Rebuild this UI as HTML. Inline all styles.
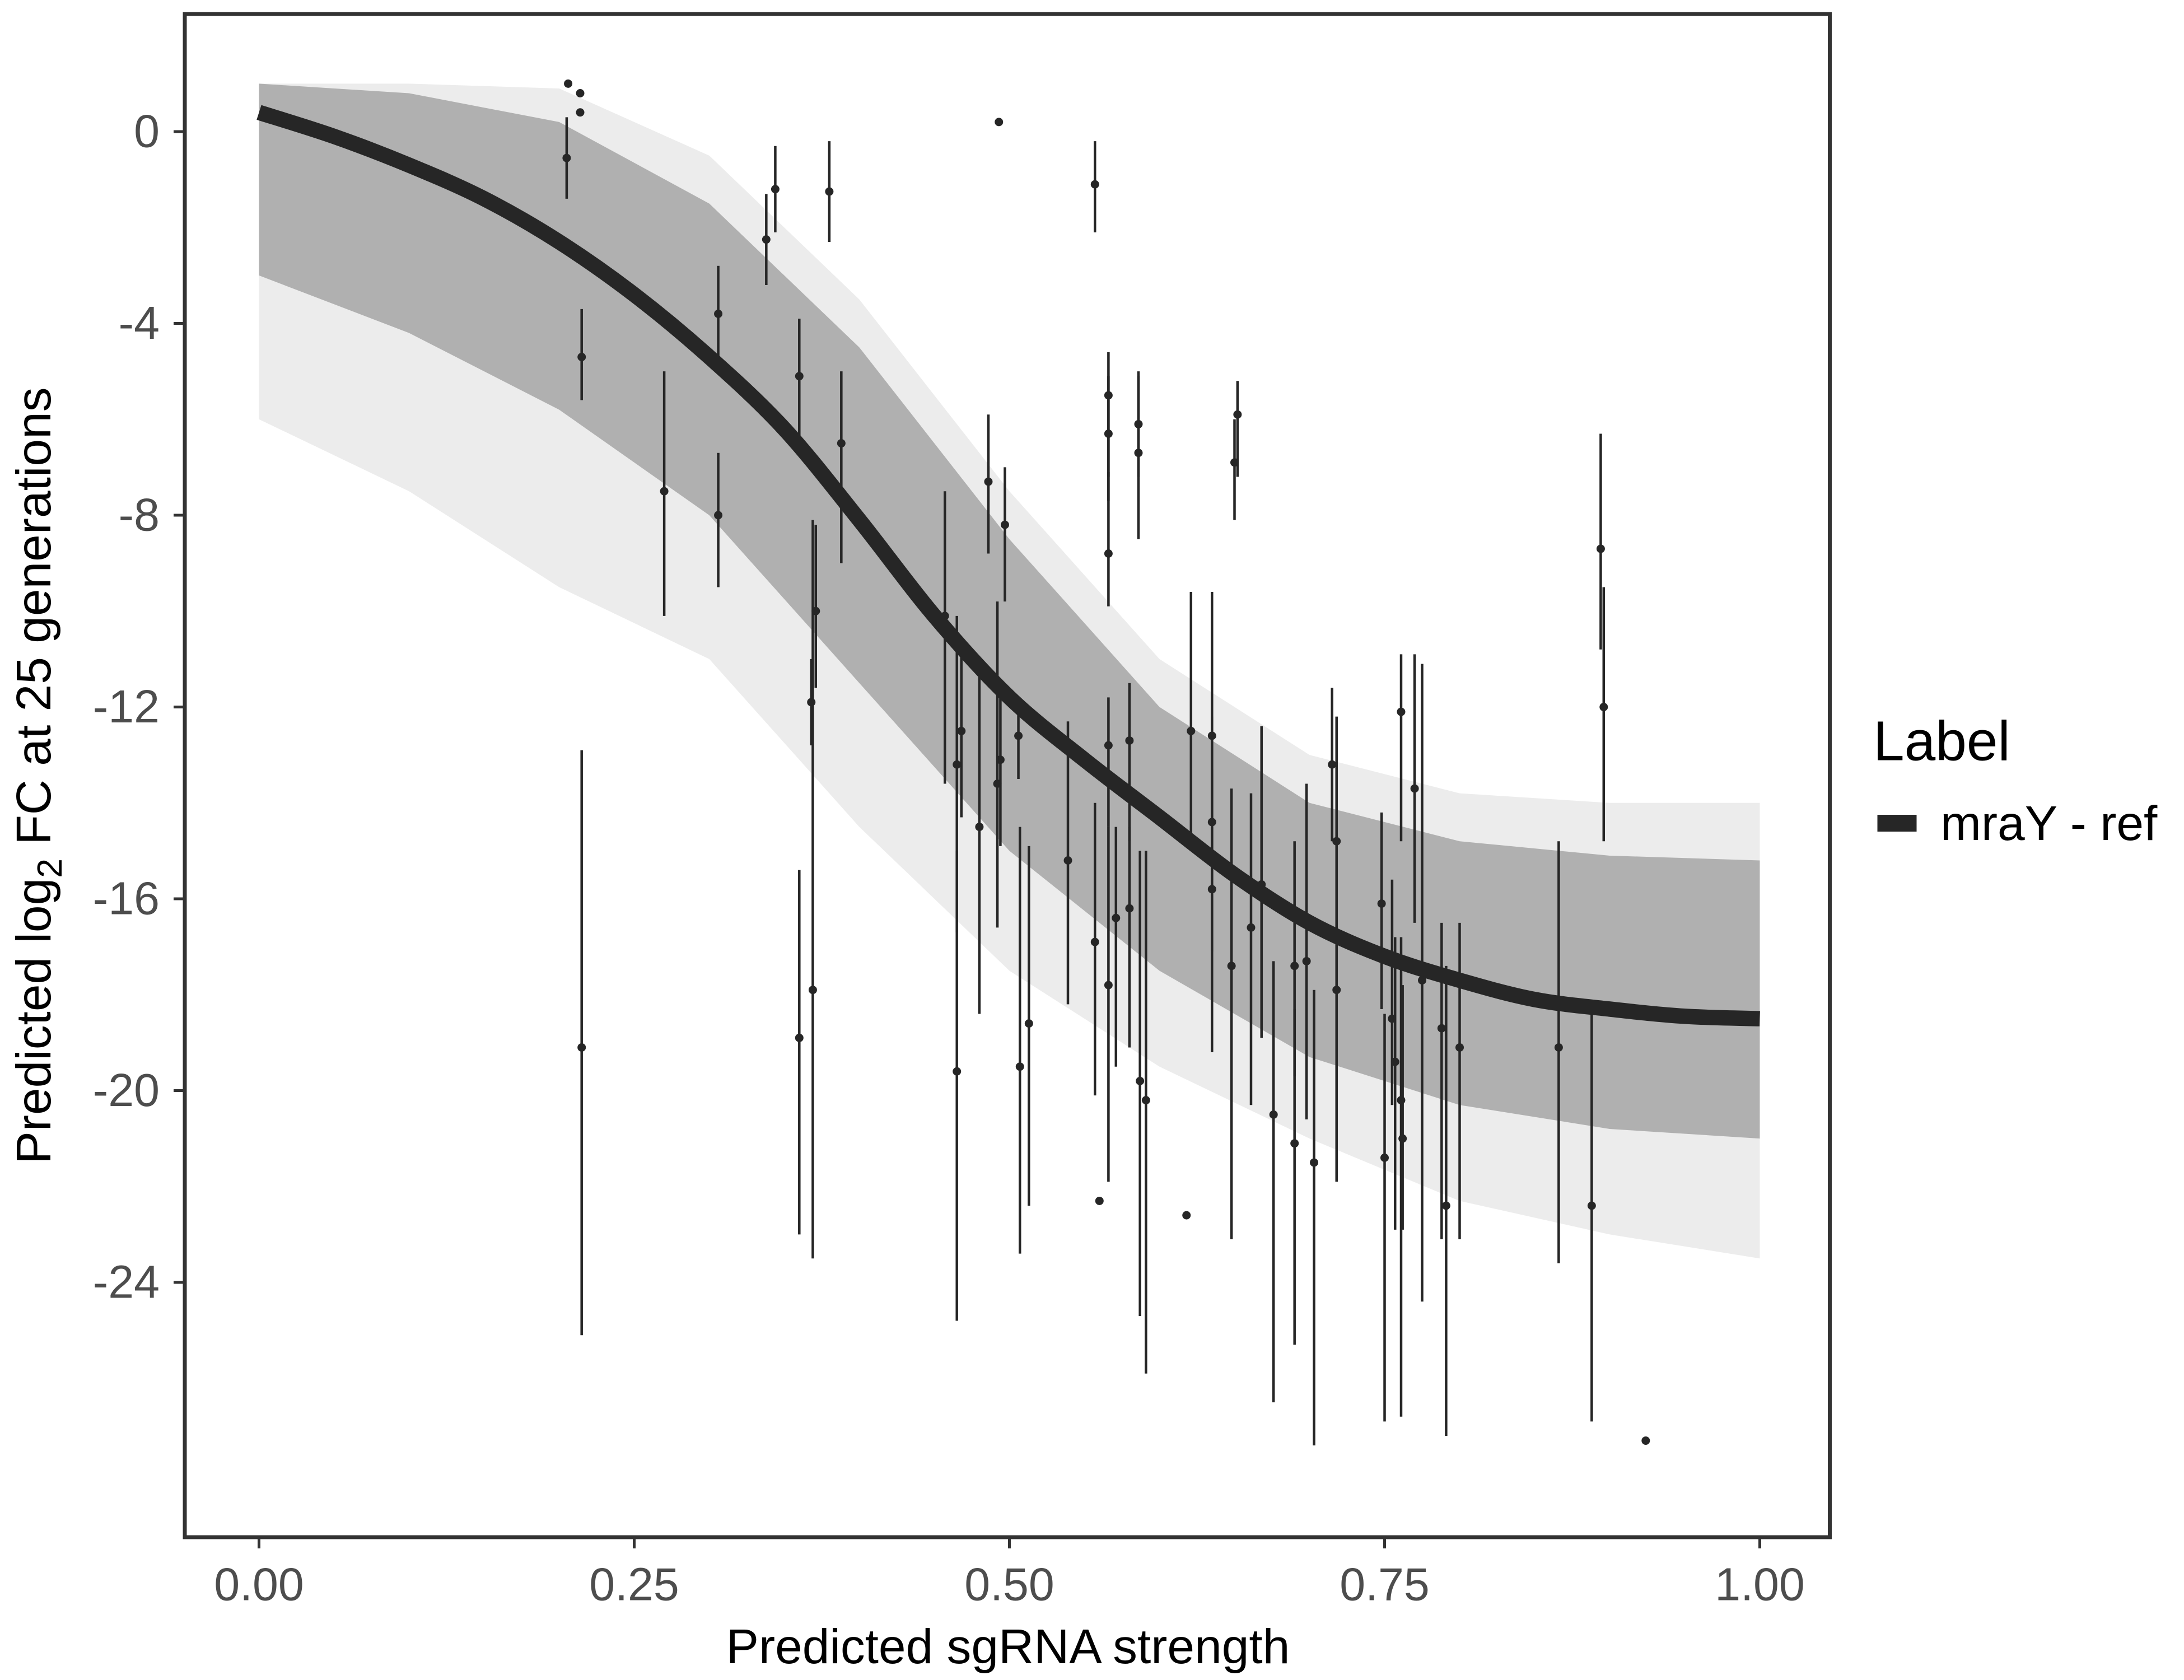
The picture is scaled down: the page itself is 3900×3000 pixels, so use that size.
<!DOCTYPE html>
<html><head><meta charset="utf-8"><style>html,body{margin:0;padding:0;background:#fff}svg{display:block}text{font-family:"Liberation Sans",sans-serif}</style></head>
<body>
<svg id="chart" width="3900" height="3000" viewBox="0 0 1560 1200" xmlns="http://www.w3.org/2000/svg">
<g id="bands"></g>
<g id="bars"></g>
<g id="main"></g>
<g id="pts"></g>
<rect x="132" y="10" width="1175" height="1088" fill="none" stroke="#333" stroke-width="2.8"/>
<g id="axes"></g>
<text x="720" y="1188" font-size="35" text-anchor="middle" fill="#000">Predicted sgRNA strength</text>
<text transform="translate(36,554) rotate(-90)" font-size="35" text-anchor="middle" fill="#000">Predicted  log<tspan font-size="25" dy="8">2</tspan><tspan dy="-8"> FC at 25 generations</tspan></text>
<g>
<text x="1338" y="543" font-size="40" fill="#000">Label</text>
<rect x="1341" y="582" width="28" height="12" fill="#262626"/>
<text x="1386" y="600" font-size="35" fill="#000">mraY - ref</text>
</g>
</svg>
<script>
const curveX=[0,0.05,0.1,0.15,0.2,0.25,0.3,0.35,0.4,0.45,0.5,0.55,0.6,0.65,0.7,0.75,0.8,0.85,0.9,0.95,1];
const curveY=[0.4,-0.1,-0.7,-1.4,-2.3,-3.4,-4.7,-6.2,-8.1,-10.1,-11.8,-13.1,-14.3,-15.5,-16.5,-17.2,-17.7,-18.1,-18.3,-18.45,-18.5];
const bandX=[0,0.1,0.2,0.3,0.4,0.5,0.6,0.7,0.8,0.9,1];
const outerHi=[1,1,0.9,-0.5,-3.5,-7.5,-11,-13,-13.8,-14,-14];
const outerLo=[-6,-7.5,-9.5,-11,-14.5,-17.5,-19.5,-21,-22.3,-23,-23.5];
const innerHi=[1,0.8,0.2,-1.5,-4.5,-8.5,-12,-14,-14.8,-15.1,-15.2];
const innerLo=[-3,-4.2,-5.8,-8,-11.5,-15,-17.5,-19.3,-20.3,-20.8,-21];
const ptX=[0.206,0.214,0.214,0.205,0.215,0.215,0.27,0.306,0.306,0.338,0.344,0.38,0.36,0.388,0.36,0.369,0.371,0.368,0.486,0.497,0.493,0.457,0.465,0.465,0.468,0.48,0.492,0.494,0.506,0.507,0.513,0.539,0.557,0.557,0.56,0.566,0.566,0.566,0.566,0.566,0.571,0.58,0.58,0.586,0.586,0.587,0.591,0.618,0.621,0.635,0.635,0.635,0.648,0.65,0.652,0.661,0.668,0.676,0.69,0.69,0.698,0.703,0.715,0.718,0.718,0.748,0.75,0.755,0.757,0.761,0.761,0.762,0.77,0.775,0.788,0.791,0.8,0.866,0.888,0.894,0.896,0.924];
const ptY=[1.0,0.8,0.4,-0.55,-4.7,-19.1,-7.5,-3.8,-8.0,-2.25,-1.2,-1.25,-5.1,-6.5,-18.9,-17.9,-10.0,-11.9,-7.3,-8.2,0.2,-10.1,-13.2,-19.6,-12.5,-14.5,-13.6,-13.1,-12.6,-19.5,-18.6,-15.2,-1.1,-16.9,-22.3,-5.5,-6.3,-8.8,-12.8,-17.8,-16.4,-12.7,-16.2,-6.1,-6.7,-19.8,-20.2,-22.6,-12.5,-12.6,-14.4,-15.8,-17.4,-6.9,-5.9,-16.6,-15.7,-20.5,-17.4,-21.1,-17.3,-21.5,-13.2,-14.8,-17.9,-16.1,-21.4,-18.5,-19.4,-12.1,-20.2,-21.0,-13.7,-17.7,-18.7,-22.4,-19.1,-19.1,-22.4,-8.7,-12.0,-27.3];
const ptHi=[null,null,null,0.3,-3.7,-12.9,-5,-2.8,-6.7,-1.3,-0.3,-0.2,-3.9,-5,-15.4,-8.1,-8.2,-11,-5.9,-7,null,-7.5,-10.1,-15,-10.7,-11.3,-9.8,-11.5,-11.9,-14.5,-14.9,-12.3,-0.2,-14,null,-4.6,-5.1,-7.1,-11.8,-14.5,-14.5,-11.5,-14.5,-5.0,-5.1,-15,-15,null,-9.6,-9.6,-12.2,-13.3,-13.7,-6.0,-5.2,-13.8,-12.4,-17.3,-14.8,-18.3,-13.6,-17.9,-11.6,-12.2,-15.4,-14.2,-18.4,-15.6,-16.8,-10.9,-16.8,-17.8,-10.9,-11.1,-16.5,-17.4,-16.5,-14.8,-18.2,-6.3,-9.5,null];
const ptLo=[null,null,null,-1.4,-5.6,-25.1,-10.1,-4.8,-9.5,-3.2,-2.1,-2.3,-6.4,-9.0,-23,-23.5,-11.6,-12.8,-8.8,-9.8,null,-13.6,-16.7,-24.8,-14.3,-18.4,-16.6,-14.9,-13.5,-23.4,-22.4,-18.2,-2.1,-20.1,null,-7.2,-7.7,-9.9,-14.5,-21.9,-19.5,-14.8,-19.1,-7.2,-8.5,-24.7,-25.9,null,-14.9,-15.6,-17.1,-19.2,-23.1,-8.1,-7.2,-20.3,-18.9,-26.5,-19.7,-25.3,-20.6,-27.4,-14.8,-17.7,-21.9,-18.3,-26.9,-20.3,-22.9,-14.8,-26.8,-22.9,-16.5,-24.4,-23.1,-27.2,-23.1,-23.6,-26.9,-10.8,-14.8,null];
const xTicks=[0,0.25,0.5,0.75,1];
const xTickLabels=["0.00","0.25","0.50","0.75","1.00"];
const yTicks=[0,-4,-8,-12,-16,-20,-24];
const yTickLabels=["0","-4","-8","-12","-16","-20","-24"];
const NS="http://www.w3.org/2000/svg";
const sx=v=>185+v*1072;
const sy=v=>94-v*34.25;
function mk(tag,attrs,parent){const e=document.createElementNS(NS,tag);for(const k in attrs)e.setAttribute(k,attrs[k]);parent.appendChild(e);return e;}
function smooth(xs,ys){
  const P=xs.map((x,i)=>[sx(x),sy(ys[i])]);
  let d='M'+P[0][0]+','+P[0][1];
  for(let i=0;i<P.length-1;i++){
    const p0=P[Math.max(0,i-1)],p1=P[i],p2=P[i+1],p3=P[Math.min(P.length-1,i+2)];
    const c1=[p1[0]+(p2[0]-p0[0])/6,p1[1]+(p2[1]-p0[1])/6];
    const c2=[p2[0]-(p3[0]-p1[0])/6,p2[1]-(p3[1]-p1[1])/6];
    d+='C'+c1[0]+','+c1[1]+' '+c2[0]+','+c2[1]+' '+p2[0]+','+p2[1];
  }
  return d;
}
const bands=document.getElementById('bands');
function band(hi,lo,fill,name){
  let d='M'+bandX.map((x,i)=>sx(x)+','+sy(hi[i])).join('L');
  d+='L'+bandX.slice().reverse().map((x,j)=>sx(x)+','+sy(lo[bandX.length-1-j])).join('L')+'Z';
  const p=mk('path',{d:d,fill:fill,'stroke-linejoin':'round'},bands);
  
  
}
band(outerHi,outerLo,'#ececec','outer-band');
band(innerHi,innerLo,'#b0b0b0','inner-band');
const bars=document.getElementById('bars'),pts=document.getElementById('pts');
ptX.forEach((x,i)=>{
  if(ptHi[i]!==null){
    const l=mk('line',{x1:sx(x),x2:sx(x),y1:sy(ptHi[i]),y2:sy(ptLo[i]),stroke:'#262626','stroke-width':1.8},bars);
    
    
  }
  const c=mk('circle',{cx:sx(x),cy:sy(ptY[i]),r:3,fill:'#262626'},pts);
  
  
});
const main=document.getElementById('main');
const mc=mk('path',{d:smooth(curveX,curveY),fill:'none',stroke:'#262626','stroke-width':11,'stroke-linejoin':'round'},main);


const axes=document.getElementById('axes');
xTicks.forEach((t,i)=>{
  mk('line',{x1:sx(t),x2:sx(t),y1:1098,y2:1106,stroke:'#333','stroke-width':2},axes);
  const tx=mk('text',{x:sx(t),y:1143,'font-size':33,'text-anchor':'middle',fill:'#4d4d4d'},axes);
  tx.textContent=xTickLabels[i];
  
  
});
yTicks.forEach((t,i)=>{
  mk('line',{x1:124,x2:132,y1:sy(t),y2:sy(t),stroke:'#333','stroke-width':2},axes);
  const tx=mk('text',{x:114,y:sy(t)+11,'font-size':33,'text-anchor':'end',fill:'#4d4d4d'},axes);
  tx.textContent=yTickLabels[i];
  
  
});
</script>
</body></html>
